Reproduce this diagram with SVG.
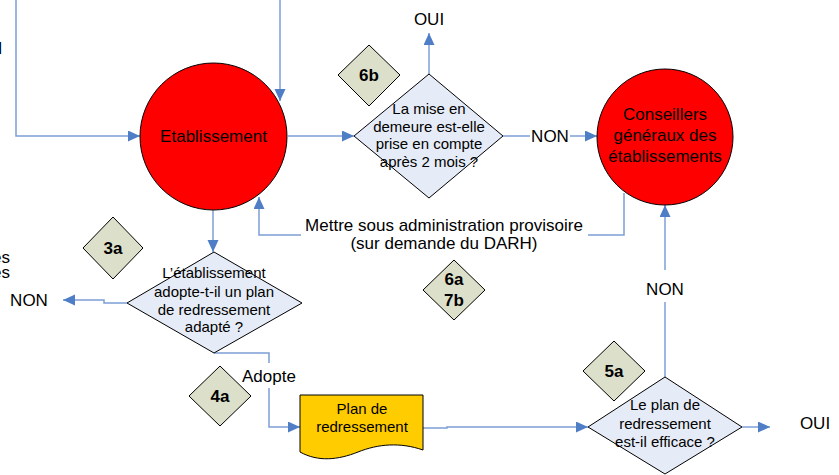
<svg xmlns="http://www.w3.org/2000/svg" width="839" height="475" viewBox="0 0 839 475">
  <defs>
    <marker id="arrow" markerUnits="userSpaceOnUse" markerWidth="13" markerHeight="12" refX="12" refY="5.5" orient="auto">
      <path d="M0,0 L12,5.5 L0,11 Z" fill="#4F7EC6"/>
    </marker>
    <style>
      text { font-family: "Liberation Sans", Arial, sans-serif; fill: #000; }
      .lbl { font-size: 17px; }
      .q { font-size: 15px; text-anchor: middle; }
      .c { text-anchor: middle; }
      .step { font-size: 17px; font-weight: bold; text-anchor: middle; }
      .actor { fill: #FF0000; stroke: #000; stroke-width: 1; }
      .decision { fill: #E6ECF7; stroke: #000; stroke-width: 1; }
      .tag { fill: #DCDFC9; stroke: #000; stroke-width: 1; }
      .doc { fill: #FFCC00; stroke: #000; stroke-width: 1; }
      .link { fill: none; stroke: #7C9FD6; stroke-width: 1.5; }
      .link.arr { marker-end: url(#arrow); }
    </style>
  </defs>
  <rect width="839" height="475" fill="#FFFFFF"/>

  <!-- labels cut by the page edge -->
  <g id="edge-labels">
    <text class="lbl" x="2.5" y="54" text-anchor="end">OUI</text>
    <text class="lbl" x="10" y="263" text-anchor="end">es</text>
    <text class="lbl" x="10" y="278" text-anchor="end">es</text>
  </g>

  <!-- connectors -->
  <g id="connectors">
    <path class="link arr" d="M16,0 V136 H140"/>
    <path class="link arr" d="M280,0 V101"/>
    <path class="link arr" d="M288,136 H354"/>
    <path class="link arr" d="M429,74 V33"/>
    <path class="link" d="M503,136 H530"/>
    <path class="link arr" d="M570,136 H597"/>
    <path class="link" d="M624,193 V235 H588"/>
    <path class="link arr" d="M301,235 H259 V197"/>
    <path class="link arr" d="M213,210 V252"/>
    <path class="link arr" d="M127,303 H104 V300 H63"/>
    <path class="link" d="M214,353 H269 V363"/>
    <path class="link arr" d="M269,388 V427 H300"/>
    <path class="link arr" d="M423,428 H447 V427 H588"/>
    <path class="link" d="M665,377 V302"/>
    <path class="link arr" d="M665,270 V205"/>
    <path class="link arr" d="M742,427 H770"/>

    <text class="lbl c" x="429" y="25">OUI</text>
    <text class="lbl c" x="550" y="142">NON</text>
    <text class="lbl c" x="444" y="231">Mettre sous administration provisoire</text>
    <text class="lbl c" x="444" y="249">(sur demande du DARH)</text>
    <text class="lbl c" x="29" y="306">NON</text>
    <text class="lbl" x="242" y="382">Adopte</text>
    <text class="lbl c" x="665" y="295">NON</text>
    <text class="lbl c" x="815" y="429">OUI</text>
  </g>

  <g id="etablissement">
    <circle class="actor" cx="213.5" cy="136.5" r="73.5"/>
    <text class="lbl c" x="213.5" y="142">Etablissement</text>
  </g>

  <g id="conseillers">
    <circle class="actor" cx="665" cy="137" r="68"/>
    <text class="lbl c" x="665" y="120">Conseillers</text>
    <text class="lbl c" x="665" y="141">généraux des</text>
    <text class="lbl c" x="665" y="162">établissements</text>
  </g>

  <g id="q-mise-en-demeure">
    <polygon class="decision" points="429,74 503,136 429,198 354,136"/>
    <text class="q" x="429" y="114">La mise en</text>
    <text class="q" x="429" y="131.5">demeure est-elle</text>
    <text class="q" x="429" y="149">prise en compte</text>
    <text class="q" x="429" y="167">après 2 mois ?</text>
  </g>

  <g id="q-plan-adopte">
    <polygon class="decision" points="214,252 302,303 214,353 127,303"/>
    <text class="q" x="214" y="278">L’établissement</text>
    <text class="q" x="214" y="296.5">adopte-t-il un plan</text>
    <text class="q" x="214" y="314.5">de redressement</text>
    <text class="q" x="214" y="332">adapté ?</text>
  </g>

  <g id="q-plan-efficace">
    <polygon class="decision" points="665,377 742,427 665,474 588,427"/>
    <text class="q" x="665" y="410">Le plan de</text>
    <text class="q" x="665" y="428.5">redressement</text>
    <text class="q" x="665" y="447">est-il efficace ?</text>
  </g>

  <g id="plan-de-redressement">
    <path class="doc" d="M300,395 H423 V450 C400,442 378,444 358,452 C338,460 318,462 300,452 Z"/>
    <text class="q" x="362" y="414">Plan de</text>
    <text class="q" x="362" y="432">redressement</text>
  </g>

  <g id="step-6b">
    <polygon class="tag" points="369,45 400,75 369,106 338,75"/>
    <text class="step" x="369" y="81">6b</text>
  </g>
  <g id="step-3a">
    <polygon class="tag" points="113,217 143,248 113,279 83,248"/>
    <text class="step" x="113" y="254">3a</text>
  </g>
  <g id="step-6a-7b">
    <polygon class="tag" points="454,260 485,290 454,320 423,290"/>
    <text class="step" x="454" y="285">6a</text>
    <text class="step" x="454" y="306">7b</text>
  </g>
  <g id="step-4a">
    <polygon class="tag" points="220,366 251,396 220,426 189,396"/>
    <text class="step" x="220" y="402">4a</text>
  </g>
  <g id="step-5a">
    <polygon class="tag" points="614,341 645,371 614,401 583,371"/>
    <text class="step" x="614" y="377">5a</text>
  </g>
</svg>
